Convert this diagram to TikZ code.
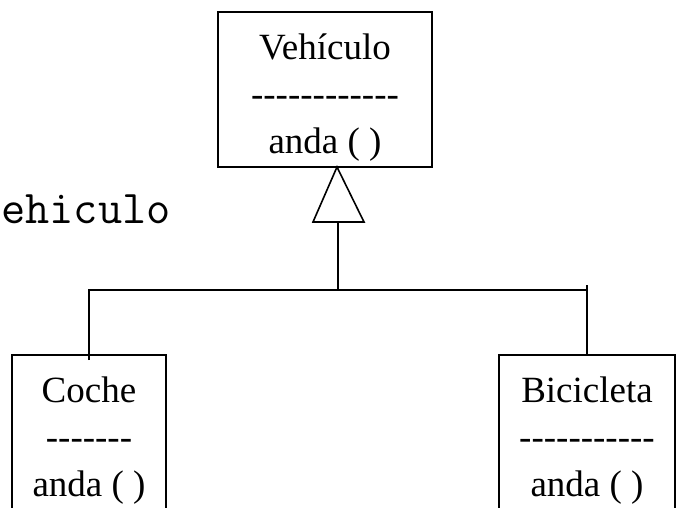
\documentclass[tikz,border=0pt]{standalone}
\usepackage{fontspec}
\setmainfont{Liberation Serif}
\usetikzlibrary{positioning}
\newcommand{\sepline}[1]{\foreach \k in {1,...,#1}{\mbox{-}}}

\begin{document}
\begin{tikzpicture}[
    x=1pt, y=-1pt,
    class node/.style={rectangle, draw, line width=1.6pt, inner sep=0pt},
    class text/.style={font=\fontsize{37}{47}\selectfont, align=center, inner sep=0pt, anchor=north},
    link/.style={line width=1.6pt, line join=miter},
]
    \useasboundingbox (0,0) rectangle (685,507);
    \clip (0,0) rectangle (685,507);

    % Superclass
    \node[class node, minimum width=214pt, minimum height=155pt] (veh) at (325, 89.5) {};
    \node[class text] (vehtxt) at ([yshift=-22pt]veh.north) {Vehículo\\\sepline{12}\\anda ( )};

    % Label on the left
    \node[font={\ttfamily\fontsize{47}{52}\selectfont}, anchor=base west, inner sep=0pt] (vlabel) at (1, 223) {ehiculo};

    % Inheritance arrow
    \coordinate (tip) at (337, 167);
    \coordinate (tl) at (313, 222);
    \coordinate (tr) at (364, 222);
    \coordinate (base) at (338, 222);
    \coordinate (bus) at (338, 290);
    \draw[link] (tip) -- (tl) -- (tr) -- cycle;
    \draw[link] (base) -- (bus);

    % Subclasses
    \node[class node, minimum width=154pt, minimum height=200pt] (coche) at (89, 455) {};
    \node[class text] (cochetxt) at ([yshift=-22pt]coche.north) {Coche\\\sepline{7}\\anda ( )};
    \node[class node, minimum width=176pt, minimum height=200pt] (bici) at (587, 455) {};
    \node[class text] (bicitxt) at ([yshift=-22pt]bici.north) {Bicicleta\\\sepline{11}\\anda ( )};

    \draw[link] ([yshift=-6pt]coche.north) -- (coche.north |- bus) -- (bici.north |- bus);
    \draw[link] (bici.north) -- ([yshift=5pt]bici.north |- bus);
\end{tikzpicture}
\end{document}
